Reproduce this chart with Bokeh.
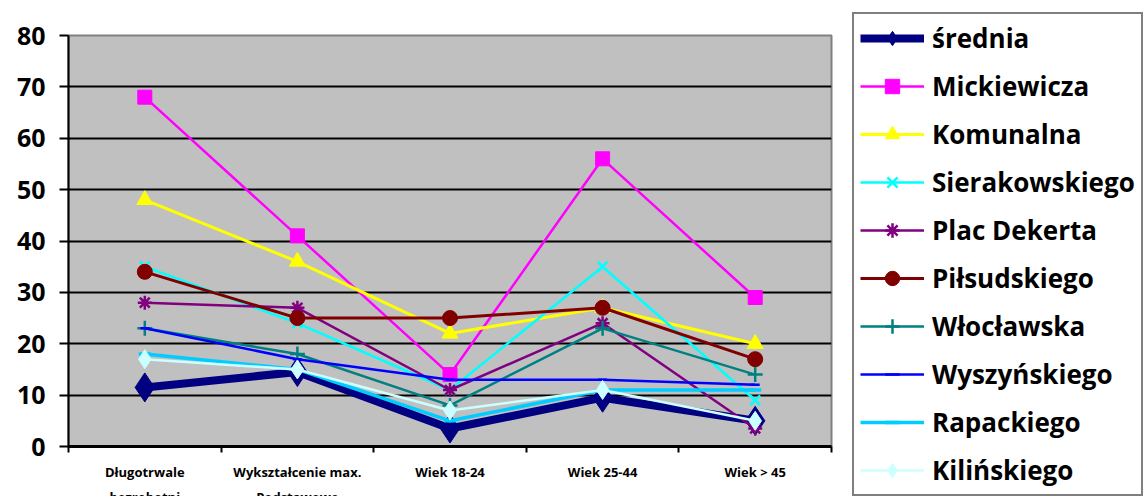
from bokeh.plotting import figure
from bokeh.models import Legend, LegendItem, FixedTicker, ColumnDataSource, Range1d
from bokeh.embed import file_html
from bokeh.resources import INLINE

categories = ["Długotrwale\nbezrobotni", "Wykształcenie max.\nPodstawowe",
              "Wiek 18-24", "Wiek 25-44", "Wiek > 45"]

srednia = [11.5, 14.5, 3.5, 9.5, 5]
mickiewicza = [68, 41, 14, 56, 29]
komunalna = [48, 36, 22, 27, 20]
sierakowskiego = [35, 24, 11, 35, 9]
plac_dekerta = [28, 27, 11, 24, 3.5]
pilsudskiego = [34, 25, 25, 27, 17]
wloclawska = [23, 18, 8, 23, 14]
wyszynskiego = [23, 17, 13, 13, 12]
rapackiego = [18, 15, 5, 11, 11]
kilinskiego = [17, 15, 7, 11, 5]

y_ticks = [0, 10, 20, 30, 40, 50, 60, 70, 80]

# name, values, colour, marker, line width, marker size
series = [
    ("średnia", srednia, "#000080", "diamond", 8, 29),
    ("Mickiewicza", mickiewicza, "#FF00FF", "square", 2.5, 14),
    ("Komunalna", komunalna, "#FFFF00", "triangle", 3, 16),
    ("Sierakowskiego", sierakowskiego, "#00FFFF", "x", 2.5, 14),
    ("Plac Dekerta", plac_dekerta, "#800080", "asterisk", 2.5, 14),
    ("Piłsudskiego", pilsudskiego, "#800000", "circle", 3, 15),
    ("Włocławska", wloclawska, "#008080", "cross", 2.5, 15),
    ("Wyszyńskiego", wyszynskiego, "#0000FF", "dash", 2.5, 9),
    ("Rapackiego", rapackiego, "#00CCFF", "dash", 3.5, 12),
    ("Kilińskiego", kilinskiego, "#CCFFFF", "diamond", 2.5, 19),
]

FONT = "Open Sans"

p = figure(frame_width=763, frame_height=411, output_backend="svg", toolbar_location=None,
           x_range=Range1d(0, len(categories)), y_range=Range1d(0, 80),
           min_border_left=68, min_border_right=315, min_border_top=35,
           min_border_bottom=50)

p.background_fill_color = "#C0C0C0"
p.border_fill_color = "white"
p.outline_line_color = "#808080"
p.outline_line_width = 2

p.xgrid.visible = False
p.ygrid.grid_line_color = "black"
p.ygrid.grid_line_width = 2
p.ygrid.ticker = FixedTicker(ticks=y_ticks)

# y axis
p.yaxis.ticker = FixedTicker(ticks=y_ticks)
p.yaxis.axis_line_color = "black"
p.yaxis.axis_line_width = 2
p.yaxis.major_tick_line_color = "black"
p.yaxis.major_tick_line_width = 2
p.yaxis.major_tick_out = 9
p.yaxis.major_tick_in = 0
p.yaxis.minor_tick_line_color = None
p.yaxis.major_label_standoff = 14
p.yaxis.major_label_text_font = FONT
p.yaxis.major_label_text_font_style = "bold"
p.yaxis.major_label_text_font_size = "25px"
p.yaxis.major_label_text_color = "black"

xs = [i + 0.5 for i in range(len(categories))]

# x axis: labels at category centres, ticks between categories
p.xaxis.ticker = FixedTicker(ticks=xs, minor_ticks=list(range(len(categories) + 1)))
p.xaxis.major_label_overrides = {x: c for x, c in zip(xs, categories)}
p.xaxis.axis_line_color = "black"
p.xaxis.axis_line_width = 3
p.xaxis.major_tick_line_color = None
p.xaxis.major_tick_out = 0
p.xaxis.major_tick_in = 0
p.xaxis.minor_tick_line_color = "black"
p.xaxis.minor_tick_line_width = 2
p.xaxis.minor_tick_out = 6
p.xaxis.minor_tick_in = 0
p.xaxis.major_label_standoff = 10
p.xaxis.major_label_text_font = FONT
p.xaxis.major_label_text_font_style = "bold"
p.xaxis.major_label_text_font_size = "13px"
p.xaxis.major_label_text_line_height = 1.4
p.xaxis.major_label_text_color = "black"

items = []
for name, vals, color, marker, lw, size in series:
    src = ColumnDataSource(dict(x=xs, y=vals))
    lr = p.line("x", "y", source=src, line_color=color, line_width=lw)
    if marker in ("x", "asterisk", "cross", "dash"):
        sr = p.scatter("x", "y", source=src, marker=marker, size=size,
                       line_color=color, line_width=lw if marker == "dash" else 2.5,
                       fill_color=color)
    else:
        sr = p.scatter("x", "y", source=src, marker=marker, size=size,
                       line_color=color, fill_color=color, line_width=1)
    items.append(LegendItem(label=name, renderers=[lr, sr]))

legend = Legend(items=items, location=(21, -50), orientation="vertical",
                padding=6, spacing=12, margin=0,
                glyph_width=64, glyph_height=36, label_height=36,
                label_standoff=8,
                label_text_font=FONT, label_text_font_style="bold",
                label_text_font_size="26px", label_text_color="black",
                border_line_color="black", border_line_width=2,
                background_fill_color="white", background_fill_alpha=1)
p.add_layout(legend, "right")

open("out.html", "w").write(file_html(p, INLINE))
